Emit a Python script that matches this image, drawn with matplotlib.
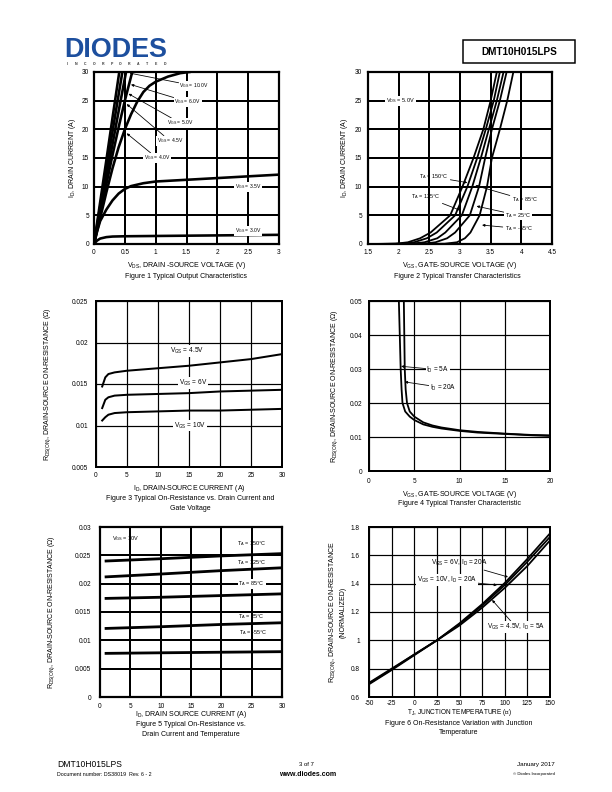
import matplotlib
matplotlib.use('Agg')
import matplotlib.pyplot as plt
from matplotlib.patches import Rectangle

plt.rcParams['font.family'] = ['Liberation Sans', 'DejaVu Sans']
plt.rcParams['mathtext.fontset'] = 'custom'
plt.rcParams['mathtext.rm'] = 'Liberation Sans'
plt.rcParams['mathtext.it'] = 'Liberation Sans:italic'
plt.rcParams['mathtext.bf'] = 'Liberation Sans:bold'
plt.rcParams['mathtext.default'] = 'regular'

W, H = 612, 792

# Figure 1 - typical output characteristics, VDS (V) vs ID (A)
vds_10v = [0, 0.1, 0.2, 0.3, 0.41]
id_10v = [0, 7.3, 14.6, 22.0, 30]
vds_6v = [0, 0.1, 0.2, 0.3, 0.46]
id_6v = [0, 6.5, 13.0, 19.6, 30]
vds_5v = [0, 0.1, 0.2, 0.3, 0.4, 0.52]
id_5v = [0, 5.8, 11.6, 17.4, 23.2, 30]
vds_45v = [0, 0.1, 0.2, 0.3, 0.4, 0.5, 0.62]
id_45v = [0, 5.2, 10.4, 15.5, 20.4, 25.0, 30]
vds_4v = [0, 0.1, 0.2, 0.3, 0.4, 0.5, 0.6, 0.7, 0.8, 0.9, 1.0, 1.2, 1.4, 1.55]
id_4v = [0, 4.5, 9.0, 13.2, 16.9, 20.0, 22.6, 24.8, 26.5, 27.6, 28.3, 29.2, 29.8, 30]
vds_35v = [0, 0.05, 0.1, 0.2, 0.3, 0.4, 0.5, 0.6, 0.8, 1.0, 1.5, 2.0, 2.5, 3.0]
id_35v = [0, 2.2, 4.0, 6.0, 7.6, 8.8, 9.6, 10.1, 10.6, 10.9, 11.2, 11.5, 11.8, 12.1]
vds_3v = [0, 0.05, 0.1, 0.2, 0.3, 0.5, 1.0, 2.0, 3.0]
id_3v = [0, 0.6, 0.95, 1.2, 1.3, 1.35, 1.4, 1.5, 1.6]

# Figure 2 - transfer characteristics, VGS (V) at each ID level (A)
id_levels = [0, 0.05, 0.3, 1, 2, 5, 10, 15, 20, 25, 30]
vgs_150c = [1.5, 1.95, 2.15, 2.35, 2.52, 2.84, 3.04, 3.22, 3.38, 3.50, 3.60]
vgs_125c = [1.5, 2.05, 2.25, 2.46, 2.62, 2.92, 3.12, 3.28, 3.42, 3.55, 3.65]
vgs_85c = [1.5, 2.20, 2.42, 2.63, 2.76, 3.03, 3.20, 3.34, 3.47, 3.60, 3.71]
vgs_25c = [1.5, 2.40, 2.60, 2.79, 2.92, 3.16, 3.31, 3.41, 3.52, 3.65, 3.76]
vgs_m55c = [1.5, 2.75, 2.95, 3.08, 3.17, 3.32, 3.44, 3.52, 3.65, 3.77, 3.87]

# Figure 3 - RDS(on) vs drain current
id_f3 = [1, 1.5, 2, 3, 5, 10, 15, 20, 25, 30]
rds_45v = [0.0147, 0.0158, 0.0162, 0.0164, 0.0166, 0.0169, 0.0172, 0.0176, 0.0180, 0.0186]
rds_6v = [0.0121, 0.0131, 0.0134, 0.0136, 0.0137, 0.0138, 0.0139, 0.0141, 0.0142, 0.0143]
rds_10v = [0.0106, 0.0110, 0.0113, 0.0115, 0.0116, 0.0117, 0.0118, 0.0118, 0.0119, 0.0120]

# Figure 4 - RDS(on) vs gate voltage
vgs_5a = [3.30, 3.40, 3.50, 3.60, 3.70, 4.0, 4.5, 5, 6, 7, 8, 10, 12, 15, 18, 20]
rds_5a = [0.05, 0.04, 0.03, 0.024, 0.020, 0.0175, 0.016, 0.0150, 0.0137, 0.0130,
          0.0125, 0.0118, 0.0113, 0.0109, 0.0105, 0.0103]
vgs_20a = [3.85, 3.90, 3.95, 4.05, 4.2, 4.5, 5, 6, 7, 8, 10, 12, 15, 18, 20]
rds_20a = [0.05, 0.04, 0.03, 0.024, 0.020, 0.0175, 0.0160, 0.0143, 0.0134, 0.0128,
           0.0120, 0.0115, 0.0110, 0.0106, 0.0105]

# Figure 5 - RDS(on) vs drain current and temperature
id_f5 = [1, 10, 20, 30]
rds_150c = [0.0240, 0.0244, 0.0249, 0.0253]
rds_125c = [0.0212, 0.0217, 0.0223, 0.0228]
rds_85c = [0.0174, 0.0176, 0.0179, 0.0182]
rds_25c = [0.0121, 0.0124, 0.0128, 0.0131]
rds_m55c = [0.0077, 0.0078, 0.0079, 0.0080]

# Figure 6 - normalized RDS(on) vs junction temperature
tj = [-50, -25, 0, 25, 50, 75, 100, 125, 150]
norm_6v_20a = [0.69, 0.79, 0.895, 1.0, 1.12, 1.255, 1.405, 1.575, 1.755]
norm_10v_20a = [0.695, 0.795, 0.9, 1.0, 1.115, 1.245, 1.39, 1.555, 1.73]
norm_45v_5a = [0.70, 0.80, 0.90, 1.0, 1.105, 1.23, 1.37, 1.525, 1.705]

# tick labels
f1_xt = ['0', '0.5', '1', '1.5', '2', '2.5', '3']
f1_yt = ['0', '5', '10', '15', '20', '25', '30']
f2_xt = ['1.5', '2', '2.5', '3', '3.5', '4', '4.5']
f3_xt = ['0', '5', '10', '15', '20', '25', '30']
f3_yt = ['0.005', '0.01', '0.015', '0.02', '0.025']
f4_xt = ['0', '5', '10', '15', '20']
f4_yt = ['0', '0.01', '0.02', '0.03', '0.04', '0.05']
f5_yt = ['0', '0.005', '0.01', '0.015', '0.02', '0.025', '0.03']
f6_xt = ['-50', '-25', '0', '25', '50', '75', '100', '125', '150']
f6_yt = ['0.6', '0.8', '1', '1.2', '1.4', '1.6', '1.8']


def fx(x):
    return x / W


def fy(y):
    return 1 - y / H


def panel(left, top, right, bottom):
    return fig.add_axes([fx(left), fy(bottom), (right - left) / W, (bottom - top) / H])


def frame(ax, xt, yt, grid_lw, spine_lw, size=6.5, xpad=6, ypad=6):
    xv = [float(t) for t in xt]
    yv = [float(t) for t in yt]
    ax.set_xlim(xv[0], xv[-1])
    ax.set_ylim(yv[0], yv[-1])
    ax.set_xticks(xv)
    ax.set_xticklabels(xt)
    ax.set_yticks(yv)
    ax.set_yticklabels(yt)
    ax.tick_params(length=0, labelsize=size)
    ax.tick_params(axis='x', pad=xpad)
    ax.tick_params(axis='y', pad=ypad)
    ax.grid(True, color='black', lw=grid_lw)
    ax.set_axisbelow(True)
    for s in ax.spines.values():
        s.set_linewidth(spine_lw)


def labels(ax, xlab, xtop, ylab, yright, size=7):
    ax.set_xlabel(xlab, fontsize=size)
    ax.set_ylabel(ylab, fontsize=size, linespacing=1.3)
    pos = ax.get_position()
    ax.xaxis.set_label_coords(pos.x0 + pos.width / 2, fy(xtop), transform=fig.transFigure)
    ax.yaxis.set_label_coords(fx(yright), pos.y0 + pos.height / 2, transform=fig.transFigure)


def note(ax, s, xy, size, tip=None, box=True):
    bb = dict(boxstyle='square,pad=0.12', fc='white', ec='none') if box else None
    if tip is None:
        ax.text(xy[0], xy[1], s, ha='center', va='center', fontsize=size, bbox=bb, zorder=6)
    else:
        ax.annotate(s, xy=tip, xytext=xy, ha='center', va='center', fontsize=size,
                    bbox=bb, zorder=6,
                    arrowprops=dict(arrowstyle='-|>', lw=0.8, color='black',
                                    mutation_scale=5, shrinkA=0, shrinkB=0))


def caption(x, y, s, size=7):
    fig.text(fx(x), fy(y), s, ha='center', va='top', fontsize=size, linespacing=1.5)


fig = plt.figure(figsize=(W / 72, H / 72), dpi=72)

# ---- header ----
fig.text(fx(64), fy(57), 'DIODES', fontsize=27, fontweight='bold', color='#1d4f9e',
         ha='left', va='baseline')
for i, ch in enumerate('INCORPORATED'):
    fig.text(fx(67 + i * 8.9), fy(65), ch, fontsize=3.5, fontweight='bold',
             color='#333333', ha='center', va='baseline')
fig.add_artist(Rectangle((fx(463), fy(63)), 112 / W, 23 / H, transform=fig.transFigure,
                         fill=False, lw=1.5, ec='black'))
fig.text(fx(519), fy(52), 'DMT10H015LPS', fontsize=10, fontweight='bold',
         ha='center', va='center')

# ---- Figure 1 ----
ax1 = panel(94, 72, 279, 244)
frame(ax1, f1_xt, f1_yt, 2.0, 2.2, size=6.5, xpad=5, ypad=5)
for xs, ys in [(vds_10v, id_10v), (vds_6v, id_6v), (vds_5v, id_5v), (vds_45v, id_45v),
               (vds_4v, id_4v), (vds_35v, id_35v), (vds_3v, id_3v)]:
    ax1.plot(xs, ys, color='black', lw=2.6, zorder=3)
note(ax1, r'V$_{GS}$ = 10.0V', (1.62, 27.6), 5, tip=(0.58, 29.8))
note(ax1, r'V$_{GS}$ = 6.0V', (1.52, 24.8), 5, tip=(0.6, 27.8))
note(ax1, r'V$_{GS}$ = 5.0V', (1.4, 21.1), 5, tip=(0.56, 26.2))
note(ax1, r'V$_{GS}$ = 4.5V', (1.23, 18.0), 5, tip=(0.53, 24.4))
note(ax1, r'V$_{GS}$ = 4.0V', (1.02, 15.0), 5, tip=(0.53, 19.3))
note(ax1, r'V$_{GS}$ = 3.5V', (2.5, 10.0), 5)
note(ax1, r'V$_{GS}$ = 3.0V', (2.5, 2.3), 5)
labels(ax1, r'V$_{DS}$, DRAIN -SOURCE VOLTAGE (V)', 260, r'I$_D$, DRAIN CURRENT (A)', 78)
caption(186, 273, 'Figure 1 Typical Output Characteristics')

# ---- Figure 2 ----
ax2 = panel(368, 72, 552, 244)
frame(ax2, f2_xt, f1_yt, 2.0, 2.2, size=6.5, xpad=5, ypad=6)
for vg in [vgs_150c, vgs_125c, vgs_85c, vgs_25c, vgs_m55c]:
    ax2.plot(vg, id_levels, color='black', lw=1.8, zorder=3)
note(ax2, r'V$_{DS}$ = 5.0V', (2.03, 25.0), 5.5)
note(ax2, r'T$_A$ = 150°C', (2.57, 11.7), 5.5, tip=(3.12, 10.7), box=False)
note(ax2, r'T$_A$ = 125°C', (2.44, 8.2), 5.5, tip=(3.0, 5.9), box=False)
note(ax2, r'T$_A$ = 85°C', (4.06, 7.7), 5.5, tip=(3.25, 10.2), box=False)
note(ax2, r'T$_A$ = 25°C', (3.95, 5.0), 5.5, tip=(3.27, 6.6))
note(ax2, r'T$_A$ = -55°C', (3.96, 2.7), 5.5, tip=(3.36, 3.3), box=False)
labels(ax2, r'V$_{GS}$, GATE-SOURCE VOLTAGE (V)', 260, r'I$_D$, DRAIN CURRENT (A)', 350)
caption(457, 273, 'Figure 2 Typical Transfer Characteristics')

# ---- Figure 3 ----
ax3 = panel(96, 301, 282, 467)
frame(ax3, f3_xt, f3_yt, 1.2, 2.0, size=6.5, xpad=5, ypad=8)
for r in [rds_45v, rds_6v, rds_10v]:
    ax3.plot(id_f3, r, color='black', lw=2.0, zorder=3)
note(ax3, r'V$_{GS}$ = 4.5V', (14.6, 0.0190), 6.5)
note(ax3, r'V$_{GS}$ = 6V', (15.7, 0.0151), 6.5)
note(ax3, r'V$_{GS}$ = 10V', (15.2, 0.0100), 6.5)
labels(ax3, r'I$_D$, DRAIN-SOURCE CURRENT (A)', 483,
       r'R$_{DS(ON)}$, DRAIN-SOURCE ON-RESISTANCE ($\Omega$)', 53)
caption(190, 495, 'Figure 3 Typical On-Resistance vs. Drain Current and\nGate Voltage')

# ---- Figure 4 ----
ax4 = panel(369, 301, 550, 471)
frame(ax4, f4_xt, f4_yt, 1.2, 2.0, size=6.5, xpad=7, ypad=7)
ax4.plot(vgs_5a, rds_5a, color='black', lw=1.8, zorder=3)
ax4.plot(vgs_20a, rds_20a, color='black', lw=1.8, zorder=3)
note(ax4, r'I$_D$ = 5A', (7.6, 0.0298), 6.5, tip=(3.55, 0.0308))
note(ax4, r'I$_D$ = 20A', (8.2, 0.0245), 6.5, tip=(3.95, 0.0262))
labels(ax4, r'V$_{GS}$, GATE-SOURCE VOLTAGE (V)', 489,
       r'R$_{DS(ON)}$, DRAIN-SOURCE ON-RESISTANCE ($\Omega$)', 340)
caption(459, 500, 'Figure 4 Typical Transfer Characteristic')

# ---- Figure 5 ----
ax5 = panel(100, 527, 282, 697)
frame(ax5, f3_xt, f5_yt, 2.0, 2.2, size=6.5, xpad=6, ypad=9)
for r in [rds_150c, rds_125c, rds_85c, rds_25c, rds_m55c]:
    ax5.plot(id_f5, r, color='black', lw=2.8, zorder=3)
note(ax5, r'V$_{GS}$ = 10V', (4.3, 0.0279), 5.5, box=False)
note(ax5, r'T$_A$ = 150°C', (25, 0.0270), 5.5, box=False)
note(ax5, r'T$_A$ = 125°C', (25, 0.0237), 5.5, box=False)
note(ax5, r'T$_A$ = 85°C', (25, 0.0200), 5.5)
note(ax5, r'T$_A$ = 25°C', (25, 0.0142), 5.5, box=False)
note(ax5, r'T$_A$ = -55°C', (25.2, 0.0114), 5.5, box=False)
labels(ax5, r'I$_D$, DRAIN SOURCE CURRENT (A)', 709,
       r'R$_{DS(ON)}$, DRAIN-SOURCE ON-RESISTANCE ($\Omega$)', 57)
caption(191, 721, 'Figure 5 Typical On-Resistance vs.\nDrain Current and Temperature')

# ---- Figure 6 ----
ax6 = panel(369, 527, 550, 697)
frame(ax6, f6_xt, f6_yt, 1.2, 2.0, size=6.5, xpad=3, ypad=9)
for r in [norm_6v_20a, norm_10v_20a, norm_45v_5a]:
    ax6.plot(tj, r, color='black', lw=1.8, zorder=3)
note(ax6, r'V$_{GS}$ = 6V, I$_D$ = 20A', (50, 1.546), 6.5, tip=(103.6, 1.447), box=False)
note(ax6, r'V$_{GS}$ = 10V, I$_D$ = 20A', (36, 1.426), 6.5, tip=(91.4, 1.39))
note(ax6, r'V$_{GS}$ = 4.5V, I$_D$ = 5A', (112.5, 1.094), 6.5, tip=(86, 1.285))
labels(ax6, r'T$_J$, JUNCTION TEMPERATURE (℃)', 707,
       'R$_{DS(ON)}$, DRAIN-SOURCE ON-RESISTANCE\n(NORMALIZED)', 347)
# Liberation has no degree-Celsius sign, let DejaVu draw this label
ax6.xaxis.label.set_math_fontfamily('dejavusans')
ax6.xaxis.label.set_fontsize(6.5)
caption(459, 720, 'Figure 6 On-Resistance Variation with Junction\nTemperature')

# ---- footer ----
fig.text(fx(57), fy(767), 'DMT10H015LPS', fontsize=8.5, ha='left', va='baseline')
fig.text(fx(57), fy(776), 'Document number: DS38019  Rev. 6 - 2', fontsize=5.3,
         ha='left', va='baseline')
fig.text(fx(306), fy(766), '3 of 7', fontsize=6, ha='center', va='baseline')
fig.text(fx(308), fy(776), 'www.diodes.com', fontsize=7, fontweight='bold',
         ha='center', va='baseline')
fig.text(fx(555), fy(766), 'January 2017', fontsize=6.3, ha='right', va='baseline')
fig.text(fx(555), fy(775), '© Diodes Incorporated', fontsize=4.3, ha='right', va='baseline')

fig.savefig('out.png', dpi=72)
